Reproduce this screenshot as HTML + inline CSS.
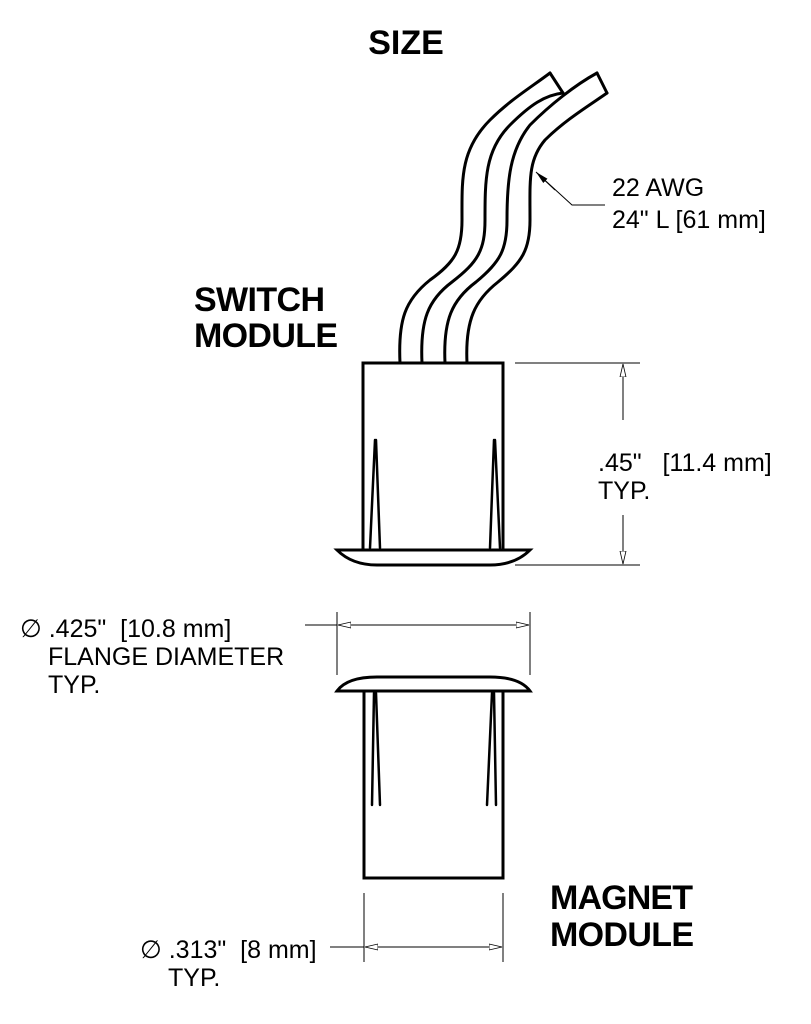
<!DOCTYPE html>
<html><head><style>
body{margin:0;background:#fff;width:811px;height:1024px;overflow:hidden}
svg{display:block}
.b{font-family:"Liberation Sans",sans-serif;font-weight:bold;font-size:34px;fill:#000}
.t{font-family:"Liberation Sans",sans-serif;font-size:25px;fill:#000;white-space:pre}
</style></head><body>
<svg width="811" height="1024" viewBox="0 0 811 1024">
<defs><marker id="a" markerWidth="14" markerHeight="8" refX="13" refY="4" orient="auto" markerUnits="userSpaceOnUse"><path d="M0,1 L13,4 L0,7 Z" fill="#fff" stroke="#000" stroke-width="0.8"/></marker>
<marker id="s" markerWidth="14" markerHeight="8" refX="13" refY="4" orient="auto" markerUnits="userSpaceOnUse"><path d="M0,1 L13,4 L0,7 Z" fill="#000"/></marker></defs>
<text class="b" x="406" y="54" text-anchor="middle" font-size="38">SIZE</text>
<text class="b" x="194" y="311" textLength="131">SWITCH</text>
<text class="b" x="194" y="347" textLength="144">MODULE</text>
<text class="b" x="550" y="909" textLength="143">MAGNET</text>
<text class="b" x="550" y="946" textLength="144">MODULE</text>
<g fill="none" stroke="#000" stroke-width="3" stroke-linecap="round">
<path d="M400,363 C398,320 405,300 430,280 C455,262 462,250 462,220 C462,180 460,150 490,120 C510,100 530,88 550,73"/>
<path d="M422,363 C420,320 428,300 452,282 C478,262 485,250 485,220 C485,180 485,150 510,125 C530,105 545,95 563,93"/>
<path d="M445,363 C443,320 452,300 476,282 C500,262 507,250 507,220 C507,180 510,150 530,125 C550,105 575,85 597,73"/>
<path d="M467,363 C465,320 475,300 498,282 C522,262 530,250 530,220 C530,180 528,160 545,140 C565,120 590,105 607,93"/>
<path d="M550,73 L563,93 M597,73 L607,93"/>
<path d="M363,550 L363,363 L503,363 L503,550"/>
<path d="M337,550 L530,550 Q515,565 490,565 L377,565 Q352,565 337,550 Z"/>
<path d="M375,440 L370,548 M376,440 L380,548 M495,440 L500,548 M494,440 L490,548" stroke-width="2.5"/>
<path d="M364,691 L364,878 L503,878 L503,691"/>
<path d="M337,691 L530,691 Q520,677 490,677 L377,677 Q347,677 337,691 Z"/>
<path d="M374,693 L372,805 M376,693 L380,805 M494,693 L496,805 M492,693 L487,805" stroke-width="2.5"/>
</g>
<g stroke="#000" stroke-width="1" fill="none">
<path d="M515,363 L640,363 M515,565 L640,565"/>
<line x1="623" y1="420" x2="623" y2="364" marker-end="url(#a)"/>
<line x1="623" y1="515" x2="623" y2="564" marker-end="url(#a)"/>
<path d="M605,205 L572,205 L537,173"/>
<line x1="555" y1="190" x2="536" y2="172" marker-end="url(#s)"/>
<path d="M337,612 L337,675 M530,612 L530,675 M305,625 L337,625"/>
<line x1="430" y1="625" x2="338" y2="625" marker-end="url(#a)"/>
<line x1="430" y1="625" x2="529" y2="625" marker-end="url(#a)"/>
<path d="M364,893 L364,962 M503,893 L503,962 M330,947 L364,947"/>
<line x1="430" y1="947" x2="365" y2="947" marker-end="url(#a)"/>
<line x1="430" y1="947" x2="502" y2="947" marker-end="url(#a)"/>
</g>
<text class="t" x="612" y="196">22 AWG</text>
<text class="t" x="612" y="228">24" L [61 mm]</text>
<text class="t" x="598" y="471">.45"   [11.4 mm]</text>
<text class="t" x="598" y="499">TYP.</text>
<text class="t" x="20" y="637">∅ .425"  [10.8 mm]</text>
<text class="t" x="48" y="665">FLANGE DIAMETER</text>
<text class="t" x="48" y="693">TYP.</text>
<text class="t" x="140" y="958">∅ .313"  [8 mm]</text>
<text class="t" x="168" y="986">TYP.</text>
</svg>
</body></html>
